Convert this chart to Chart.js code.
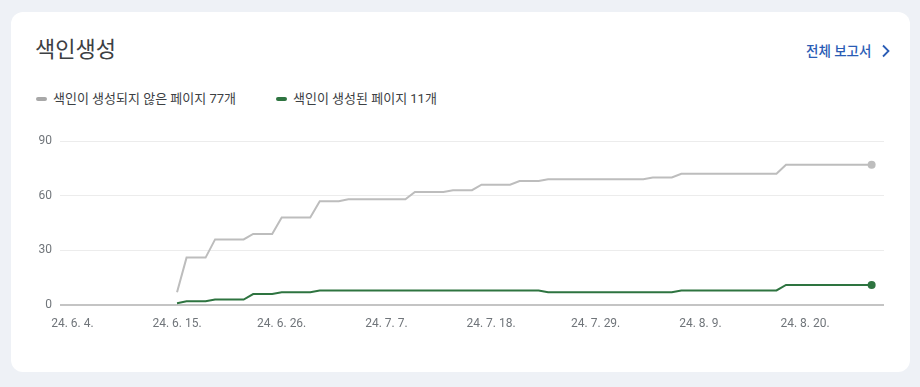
<!DOCTYPE html>
<html lang="ko">
<head>
<meta charset="utf-8">
<script src="https://cdn.jsdelivr.net/npm/chart.js@4/dist/chart.umd.min.js"></script>
<style>
  html, body { margin: 0; padding: 0; width: 920px; height: 387px; background: #eef1f6; overflow: hidden; font-family: Roboto, "Noto Sans CJK KR", sans-serif; }
  .card { position: absolute; left: 11px; top: 12px; width: 899px; height: 360px; background: #fff; border-radius: 12px; }
  .title { position: absolute; left: 35px; top: 35px; font-size: 22px; color: #3c4043; line-height: 30px; }
  .link { position: absolute; left: 806px; top: 41px; font-size: 13.5px; font-weight: 500; color: #2a5cb5; line-height: 20px; }
  .chev { position: absolute; left: 880px; top: 44px; }
  .legend { position: absolute; top: 90px; font-size: 13px; color: #3c4043; line-height: 18px; white-space: nowrap; }
  .legend .mk { display: inline-block; width: 11px; height: 4px; border-radius: 2px; vertical-align: middle; margin-right: 6px; position: relative; top: -1px; }
  #c { position: absolute; left: 0; top: 0; }
</style>
</head>
<body>
<div class="card"></div>
<div class="title">색인생성</div>
<div class="link">전체 보고서</div>
<svg class="chev" width="12" height="14" viewBox="0 0 12 14"><path d="M3 1.5 L8.5 7 L3 12.5" fill="none" stroke="#2a5cb5" stroke-width="1.8"/></svg>
<div class="legend" id="lg1" style="left:36px"></div>
<div class="legend" id="lg2" style="left:276px"></div>
<canvas id="c" width="920" height="387"></canvas>
<script>
// Day index 0 = 2024-06-04; data runs from day 11 (6/15) to day 84 (8/27)
const firstDay = 11;
const seriesNames = ['색인이 생성되지 않은 페이지 77개', '색인이 생성된 페이지 11개'];
const seriesColors = ['#bdbdbd', '#2e7440'];
const legendColors = ['#a8a8a8', '#2e7440'];
const notIndexed = [7,
  26,26,26,
  36,36,36,36,
  39,39,39,
  48,48,48,48,
  57,57,57,
  58,58,58,58,58,58,58,
  62,62,62,62,
  63,63,63,
  66,66,66,66,
  68,68,68,
  69,69,69,69,69,69,69,69,69,69,69,
  70,70,70,
  72,72,72,72,72,72,72,72,72,72,72,
  77,77,77,77,77,77,77,77,77,77];
const indexed = [1,
  2,2,2,
  3,3,3,3,
  6,6,6,
  7,7,7,7,
  8,8,8,8,8,8,8,8,8,8,8,8,8,8,8,8,8,8,8,8,8,8,8,8,
  7,7,7,7,7,7,7,7,7,7,7,7,7,7,
  8,8,8,8,8,8,8,8,8,8,8,
  11,11,11,11,11,11,11,11,11,11];
const xTickDays = [0, 11, 22, 33, 44, 55, 66, 77];
const xTickLabels = ['24. 6. 4.', '24. 6. 15.', '24. 6. 26.', '24. 7. 7.', '24. 7. 18.', '24. 7. 29.', '24. 8. 9.', '24. 8. 20.'];
const yTicks = [0, 30, 60, 90];

document.getElementById('lg1').innerHTML = '<span class="mk" style="background:' + legendColors[0] + '"></span>' + seriesNames[0];
document.getElementById('lg2').innerHTML = '<span class="mk" style="background:' + legendColors[1] + '"></span>' + seriesNames[1];

function toPoints(arr) { return arr.map((v, i) => ({ x: firstDay + i, y: v })); }
function lastOnly(r) { return (ctx) => ctx.dataIndex === ctx.dataset.data.length - 1 ? r : 0; }

new Chart(document.getElementById('c'), {
  type: 'line',
  data: {
    datasets: [
      { label: seriesNames[0], data: toPoints(notIndexed), borderColor: seriesColors[0], backgroundColor: seriesColors[0], borderWidth: 2, tension: 0, pointRadius: lastOnly(4), pointHoverRadius: 0, pointBorderWidth: 0 },
      { label: seriesNames[1], data: toPoints(indexed), borderColor: seriesColors[1], backgroundColor: seriesColors[1], borderWidth: 2, tension: 0, pointRadius: lastOnly(4), pointHoverRadius: 0, pointBorderWidth: 0 }
    ]
  },
  options: {
    responsive: false,
    animation: false,
    events: [],
    layout: { padding: { left: 0, right: 36, top: 141, bottom: 42 } },
    plugins: { legend: { display: false }, tooltip: { enabled: false } },
    scales: {
      x: {
        type: 'linear',
        min: -1.3,
        max: 85.3,
        afterBuildTicks: (s) => { s.ticks = xTickDays.map(v => ({ value: v })); },
        afterFit: (s) => { s.height = 40; },
        grid: { display: false, drawTicks: false },
        border: { display: false },
        ticks: {
          padding: 12,
          autoSkip: false,
          maxRotation: 0,
          color: '#70757a',
          font: { family: 'Roboto, "Noto Sans CJK KR"', size: 12 },
          callback: (v) => { const i = xTickDays.indexOf(v); return i >= 0 ? xTickLabels[i] : ''; }
        }
      },
      y: {
        min: 0,
        max: 90,
        afterBuildTicks: (s) => { s.ticks = yTicks.map(v => ({ value: v })); },
        afterFit: (s) => { s.width = 60; },
        grid: {
          drawTicks: false,
          color: (ctx) => ctx.tick && ctx.tick.value === 0 ? '#c4c4c4' : '#ececec',
          lineWidth: (ctx) => ctx.tick && ctx.tick.value === 0 ? 2 : 1
        },
        border: { display: false },
        ticks: {
          padding: 8,
          color: '#70757a',
          font: { family: 'Roboto, "Noto Sans CJK KR"', size: 12 }
        }
      }
    }
  }
});
</script>
</body>
</html>
